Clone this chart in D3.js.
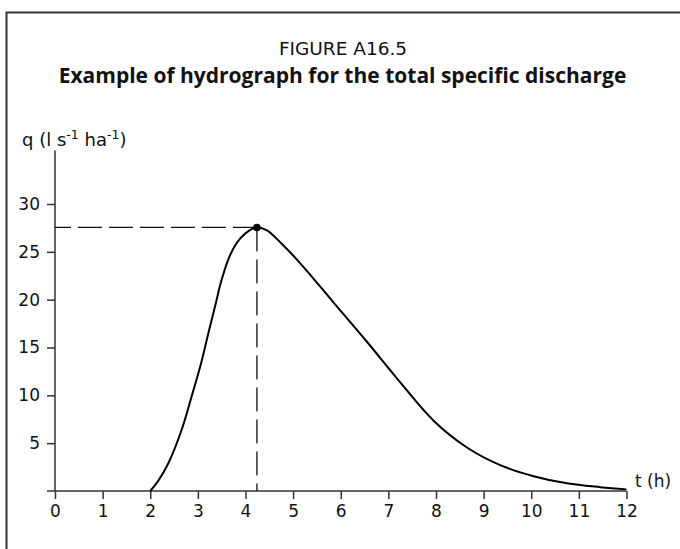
<!DOCTYPE html>
<html><head><meta charset="utf-8">
<script src="https://cdn.jsdelivr.net/npm/d3@7"></script>
<style>
html,body{margin:0;padding:0;background:#fff;}
svg{display:block;font-family:"DejaVu Sans",sans-serif;}
</style></head>
<body>
<svg id="chart" width="680" height="549"></svg>
<script>
const titleTop = "FIGURE A16.5";
const titleMain = "Example of hydrograph for the total specific discharge";
const xTicks = [0,1,2,3,4,5,6,7,8,9,10,11,12];
const yTicks = [5,10,15,20,25,30];
const tHours = [2.0,2.16,2.38,2.66,2.87,3.07,3.22,3.37,3.50,3.68,3.89,4.10,4.24,4.45,4.75,5.15,5.85,6.55,7.2,7.95,8.65,9.35,10.05,10.75,11.45,12.0];
const qDischarge = [0,1.0,2.9,6.4,9.9,13.4,16.5,19.5,22.1,24.7,26.4,27.3,27.55,27.25,25.9,23.8,19.7,15.6,11.65,7.35,4.55,2.7,1.55,0.8,0.4,0.17];
const peak = {t:4.24, q:27.55};

const svg = d3.select("#chart");
const x = d3.scaleLinear().domain([0,12]).range([55,626.5]);
const y = d3.scaleLinear().domain([0,30]).range([491,204]);

// frame
svg.append("path").attr("d","M6.5,549V12.5H680").attr("fill","none").attr("stroke","#333").attr("stroke-width",2);

// titles
svg.append("text").attr("x",343).attr("y",55).attr("text-anchor","middle")
  .attr("font-family","'DejaVu Sans',sans-serif").attr("font-size",18.5).attr("fill","#111").text(titleTop);
svg.append("text").attr("x",342.5).attr("y",83).attr("text-anchor","middle")
  .attr("font-family","'Open Sans',sans-serif").attr("font-size",21).attr("font-weight","bold").attr("fill","#111").text(titleMain);

// axes
const axisColor = "#333";
const xAxis = svg.append("g").attr("transform",`translate(0,${y(0)})`)
  .call(d3.axisBottom(x).tickValues(xTicks).tickFormat(d3.format("d")).tickSizeOuter(0).tickSize(8).tickPadding(6));
xAxis.select(".domain").remove();
xAxis.attr("font-family",null).attr("font-size",null);
xAxis.append("line").attr("x1",47).attr("x2",x(12)).attr("stroke",axisColor).attr("stroke-width",1.5);
xAxis.selectAll(".tick line").attr("stroke",axisColor).attr("stroke-width",1.5);
xAxis.selectAll(".tick text").style("font-size","17px").attr("fill","#111").style("font-family","'DejaVu Sans',sans-serif");

const yAxis = svg.append("g").attr("transform",`translate(${x(0)},0)`)
  .call(d3.axisLeft(y).tickValues(yTicks).tickFormat(d3.format("d")).tickSizeOuter(0).tickSize(8).tickPadding(7));
yAxis.select(".domain").remove();
yAxis.attr("font-family",null).attr("font-size",null);
yAxis.append("line").attr("y1",y(0)).attr("y2",y(35.6)).attr("stroke",axisColor).attr("stroke-width",1.5);
yAxis.selectAll(".tick line").attr("stroke",axisColor).attr("stroke-width",1.5);
yAxis.selectAll(".tick text").style("font-size","17px").attr("fill","#111").style("font-family","'DejaVu Sans',sans-serif");

// axis labels
const yl = svg.append("text").attr("x",22).attr("y",146).attr("font-size",18).attr("fill","#111");
yl.append("tspan").text("q (l s");
yl.append("tspan").attr("dy",-7).attr("font-size",12.5).text("-1");
yl.append("tspan").attr("dy",7).text(" ha");
yl.append("tspan").attr("dy",-7).attr("font-size",12.5).text("-1");
yl.append("tspan").attr("dy",7).text(")");
svg.append("text").attr("x",635).attr("y",487).attr("font-size",17).attr("fill","#111").text("t (h)");

// dashed guides
svg.append("line").attr("x1",x(peak.t)).attr("x2",x(0)).attr("y1",y(peak.q)).attr("y2",y(peak.q))
  .attr("stroke","#111").attr("stroke-width",1.3).attr("stroke-dasharray","24,7");
svg.append("line").attr("x1",x(peak.t)).attr("x2",x(peak.t)).attr("y1",y(peak.q)).attr("y2",y(0))
  .attr("stroke","#111").attr("stroke-width",1.3).attr("stroke-dasharray","24,8");

// curve
const pts = tHours.map((t,i)=>[t,qDischarge[i]]);
svg.append("path").datum(pts)
  .attr("d",d3.line().x(d=>x(d[0])).y(d=>y(d[1])).curve(d3.curveCatmullRom.alpha(0.5)))
  .attr("fill","none").attr("stroke","#000").attr("stroke-width",2);

svg.append("circle").attr("cx",x(peak.t)).attr("cy",y(peak.q)).attr("r",3.8).attr("fill","#000");
</script>
</body></html>
